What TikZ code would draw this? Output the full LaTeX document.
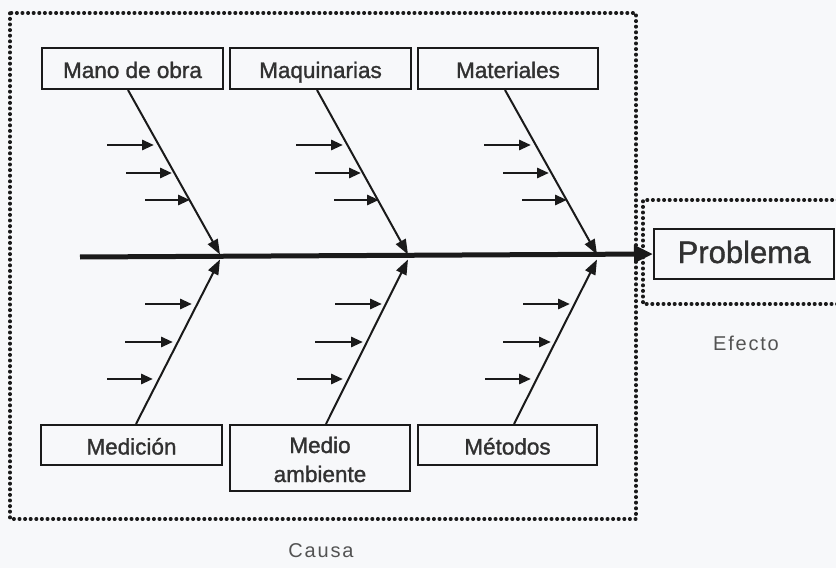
\documentclass[tikz,border=0pt]{standalone}
\usepackage{fontspec}
\setmainfont{Liberation Sans}
\newfontfamily\labfont{Liberation Sans}[FakeBold=1.3]
\newfontfamily\capfont{Liberation Sans}[LetterSpace=9]
\usetikzlibrary{arrows.meta,calc}
\definecolor{ink}{HTML}{1A1A1A}
\definecolor{paper}{HTML}{F7F8FA}
\begin{document}
\begin{tikzpicture}[x=1bp,y=-1bp,
  catbox/.style={draw=ink,line width=2bp,minimum width=181bp,minimum height=41bp,inner sep=0bp,
     font=\labfont\fontsize{22.5bp}{29bp}\selectfont,text=ink!90,align=center,
     text height=19bp,text depth=0bp},
  bone/.style={draw=ink,line width=2bp,-{Triangle[length=15bp,width=11bp]}},
  twig/.style={draw=ink,line width=2.8bp,-{Triangle[length=12bp,width=10bp]}},
  dotbox/.style={draw=ink,line width=3.4bp,line cap=round,dash pattern=on 0.6bp off 5bp},
  lbl/.style={font=\capfont\fontsize{20bp}{22bp}\selectfont,text=ink!75}]
\useasboundingbox (0,0) rectangle (836,568);
\fill[paper] (0,0) rectangle (836,568);
% frames
\draw[dotbox] (10,13) rectangle (636,519);
\draw[dotbox] (838,200) -- (643,200) -- (643,304) -- (838,304);
% category boxes
\node[catbox] (mano) at (132.5,68.5) {Mano de obra};
\node[catbox] (maqu) at (320.5,68.5) {Maquinarias};
\node[catbox,minimum width=180bp] (mate) at (508,68.5) {Materiales};
\node[catbox,minimum height=40bp] (medi) at (131.5,445) {Medición};
\node[catbox,minimum width=180bp,minimum height=66bp,text height=48bp] (ambi) at (320,458) {Medio\\ambiente};
\node[catbox,minimum width=179bp,minimum height=40bp] (meto) at (507.5,445) {Métodos};
% effect
\node[draw=ink,line width=2bp,minimum width=180bp,minimum height=50bp,inner sep=0bp,
  text height=18bp,text depth=0bp,
  font=\labfont\fontsize{31bp}{34bp}\selectfont,text=ink!90] (prob) at (744,254) {Problema};
\node[lbl] (efecto) at (746,343) {Efecto};
\node[lbl] (causa) at (321,551) {Causa};
% spine
\coordinate (tail) at (80,257);
\draw[draw=ink,line width=5bp,-{Triangle[length=19bp,width=17bp]}] (tail) -- (prob.west);
% joints
\coordinate (ja) at (220,254.5); \coordinate (jb) at (220,259.5);
\coordinate (ka) at (408,254.5); \coordinate (kb) at (408,259.5);
\coordinate (la) at (597,254.5); \coordinate (lb) at (597,259.5);
% bones
\draw[bone] ($(mano.south)+(-4.5,0)$) -- (ja);
\draw[bone] ($(maqu.south)+(-3.5,0)$) -- (ka);
\draw[bone] ($(mate.south)+(-3,0)$) -- (la);
\draw[bone] ($(medi.north)+(4.5,0)$) -- (jb);
\draw[bone] ($(ambi.north)+(6,0)$) -- (kb);
\draw[bone] ($(meto.north)+(6.5,0)$) -- (lb);
% twigs (top)
\foreach \b/\n in {128/a,317/b,505/c}{
  \coordinate (t\n1s) at (\b-21,145); \coordinate (t\n1e) at (\b+26,145);
  \coordinate (t\n2s) at (\b-2,173);  \coordinate (t\n2e) at (\b+44,173);
  \coordinate (t\n3s) at (\b+17,200); \coordinate (t\n3e) at (\b+62,200);
  \draw[twig] (t\n1s) -- (t\n1e);
  \draw[twig] (t\n2s) -- (t\n2e);
  \draw[twig] (t\n3s) -- (t\n3e);
}
% twigs (bottom)
\foreach \b/\n in {136/a,326/b,514/c}{
  \coordinate (u\n1s) at (\b+9,304);  \coordinate (u\n1e) at (\b+56,304);
  \coordinate (u\n2s) at (\b-11,342); \coordinate (u\n2e) at (\b+37,342);
  \coordinate (u\n3s) at (\b-29,379); \coordinate (u\n3e) at (\b+17,379);
  \draw[twig] (u\n1s) -- (u\n1e);
  \draw[twig] (u\n2s) -- (u\n2e);
  \draw[twig] (u\n3s) -- (u\n3e);
}
\end{tikzpicture}
\end{document}
